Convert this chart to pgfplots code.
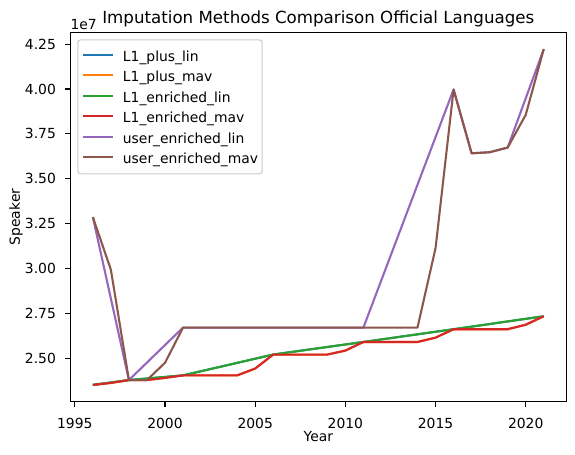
\documentclass[border=0pt]{standalone}
\usepackage{fontspec}
\setmainfont{DejaVu Sans}
\usepackage{pgfplots}
\pgfplotsset{compat=1.18}
\definecolor{C0}{HTML}{1F77B4}
\definecolor{C1}{HTML}{FF7F0E}
\definecolor{C2}{HTML}{2CA02C}
\definecolor{C3}{HTML}{D62728}
\definecolor{C4}{HTML}{9467BD}
\definecolor{C5}{HTML}{8C564B}
\definecolor{legframe}{HTML}{CCCCCC}
\begin{document}
\begin{tikzpicture}
\path[use as bounding box] (-0.703in,-0.533in) rectangle (5.047in,4.017in);
\begin{axis}[
  at={(0,0)}, anchor=south west,
  scale only axis, width=4.96in, height=3.694in,
  xmin=1994.75, xmax=2022.25,
  ymin=22595500, ymax=43154500,
  clip mode=individual,
  xtick={1995,2000,2005,2010,2015,2020},
  ytick={25000000,27500000,30000000,32500000,35000000,37500000,40000000,42500000},
  scaled y ticks=base 10:-7,
  ytick scale label code/.code={},
  tick pos=left, tick align=outside,
  major tick length=3.5bp,
  every tick/.style={black, line width=0.8bp},
  axis line style={line width=0.8bp},
  x tick label style={/pgf/number format/.cd, 1000 sep={}, assume math mode=true, /tikz/.cd, anchor=north, yshift=-0.11in, inner sep=0pt, font=\fontsize{10bp}{12bp}\selectfont},
  y tick label style={/pgf/number format/.cd, fixed, fixed zerofill, precision=2, assume math mode=true, /tikz/.cd, anchor=east, xshift=-0.093in, inner sep=0pt, font=\fontsize{10bp}{12bp}\selectfont},
  title={Imputation Methods Comparison Official Languages},
  every axis title shift=0pt,
  title style={at={(axis description cs:0.5,1.0225)}, anchor=base, inner sep=0pt, font=\fontsize{12bp}{14bp}\selectfont},
  xlabel={Year},
  xlabel style={at={(axis description cs:0.5,-0.0809)}, anchor=north, inner sep=0pt, font=\fontsize{10bp}{12bp}\selectfont},
  ylabel={Speaker},
  ylabel style={at={(axis description cs:-0.1018,0.5)}, anchor=base, inner sep=0pt, font=\fontsize{10bp}{12bp}\selectfont},
  legend cell align=left,
  legend style={at={(axis description cs:0.0141,0.981)}, anchor=north west,
    draw=legframe, line width=0.8bp, rounded corners=2bp, fill=white, fill opacity=0.8, text opacity=1,
    inner xsep=0.04in, inner ysep=0.09in, row sep=0.07in, column sep=0.09in,
    font=\fontsize{10bp}{12bp}\selectfont,
    nodes={inner sep=0pt, text height=0.125in, text depth=0.01in, font=\fontsize{10bp}{12bp}\selectfont}},
  legend image code/.code={\draw[#1, line width=1.5bp] (0in,0.01in) -- (0.3in,0.01in);},
  every axis plot/.append style={line width=1.5bp, line join=round},
]
\node[anchor=base west, inner sep=0pt, font=\fontsize{10bp}{12bp}\selectfont] at (axis description cs:0,1.0076) {1e7};
\addplot[C0] table {
1996 23530000
1997 23665000
1998 23800000
1999 23887000
2000 23973000
2001 24060000
2002 24292000
2003 24524000
2004 24756000
2005 24988000
2006 25220000
2007 25360000
2008 25500000
2009 25640000
2010 25780000
2011 25920000
2012 26062000
2013 26204000
2014 26346000
2015 26488000
2016 26630000
2017 26774000
2018 26918000
2019 27062000
2020 27206000
2021 27350000
};
\addlegendentry{L1\_plus\_lin}
\addplot[C1] table {
1996 23530000
1997 23640000
1998 23800000
1999 23800000
2000 23920000
2001 24060000
2002 24060000
2003 24060000
2004 24060000
2005 24440000
2006 25220000
2007 25220000
2008 25220000
2009 25220000
2010 25440000
2011 25920000
2012 25920000
2013 25920000
2014 25920000
2015 26160000
2016 26630000
2017 26630000
2018 26630000
2019 26630000
2020 26880000
2021 27350000
};
\addlegendentry{L1\_plus\_mav}
\addplot[C2] table {
1996 23530000
1997 23665000
1998 23800000
1999 23887000
2000 23973000
2001 24060000
2002 24292000
2003 24524000
2004 24756000
2005 24988000
2006 25220000
2007 25360000
2008 25500000
2009 25640000
2010 25780000
2011 25920000
2012 26062000
2013 26204000
2014 26346000
2015 26488000
2016 26630000
2017 26774000
2018 26918000
2019 27062000
2020 27206000
2021 27350000
};
\addlegendentry{L1\_enriched\_lin}
\addplot[C3] table {
1996 23530000
1997 23640000
1998 23800000
1999 23800000
2000 23920000
2001 24060000
2002 24060000
2003 24060000
2004 24060000
2005 24440000
2006 25220000
2007 25220000
2008 25220000
2009 25220000
2010 25440000
2011 25920000
2012 25920000
2013 25920000
2014 25920000
2015 26160000
2016 26630000
2017 26630000
2018 26630000
2019 26630000
2020 26880000
2021 27350000
};
\addlegendentry{L1\_enriched\_mav}
\addplot[C4] table {
1996 32870000
1997 28335000
1998 23800000
1999 24773000
2000 25747000
2001 26720000
2002 26720000
2003 26720000
2004 26720000
2005 26720000
2006 26720000
2007 26720000
2008 26720000
2009 26720000
2010 26720000
2011 26720000
2012 29370000
2013 32020000
2014 34670000
2015 37320000
2016 39970000
2017 36420000
2018 36480000
2019 36740000
2020 39480000
2021 42220000
};
\addlegendentry{user\_enriched\_lin}
\addplot[C5] table {
1996 32870000
1997 29940000
1998 23800000
1999 23800000
2000 24760000
2001 26720000
2002 26720000
2003 26720000
2004 26720000
2005 26720000
2006 26720000
2007 26720000
2008 26720000
2009 26720000
2010 26720000
2011 26720000
2012 26720000
2013 26720000
2014 26720000
2015 31140000
2016 39970000
2017 36420000
2018 36480000
2019 36740000
2020 38560000
2021 42220000
};
\addlegendentry{user\_enriched\_mav}
\end{axis}
\end{tikzpicture}
\end{document}
